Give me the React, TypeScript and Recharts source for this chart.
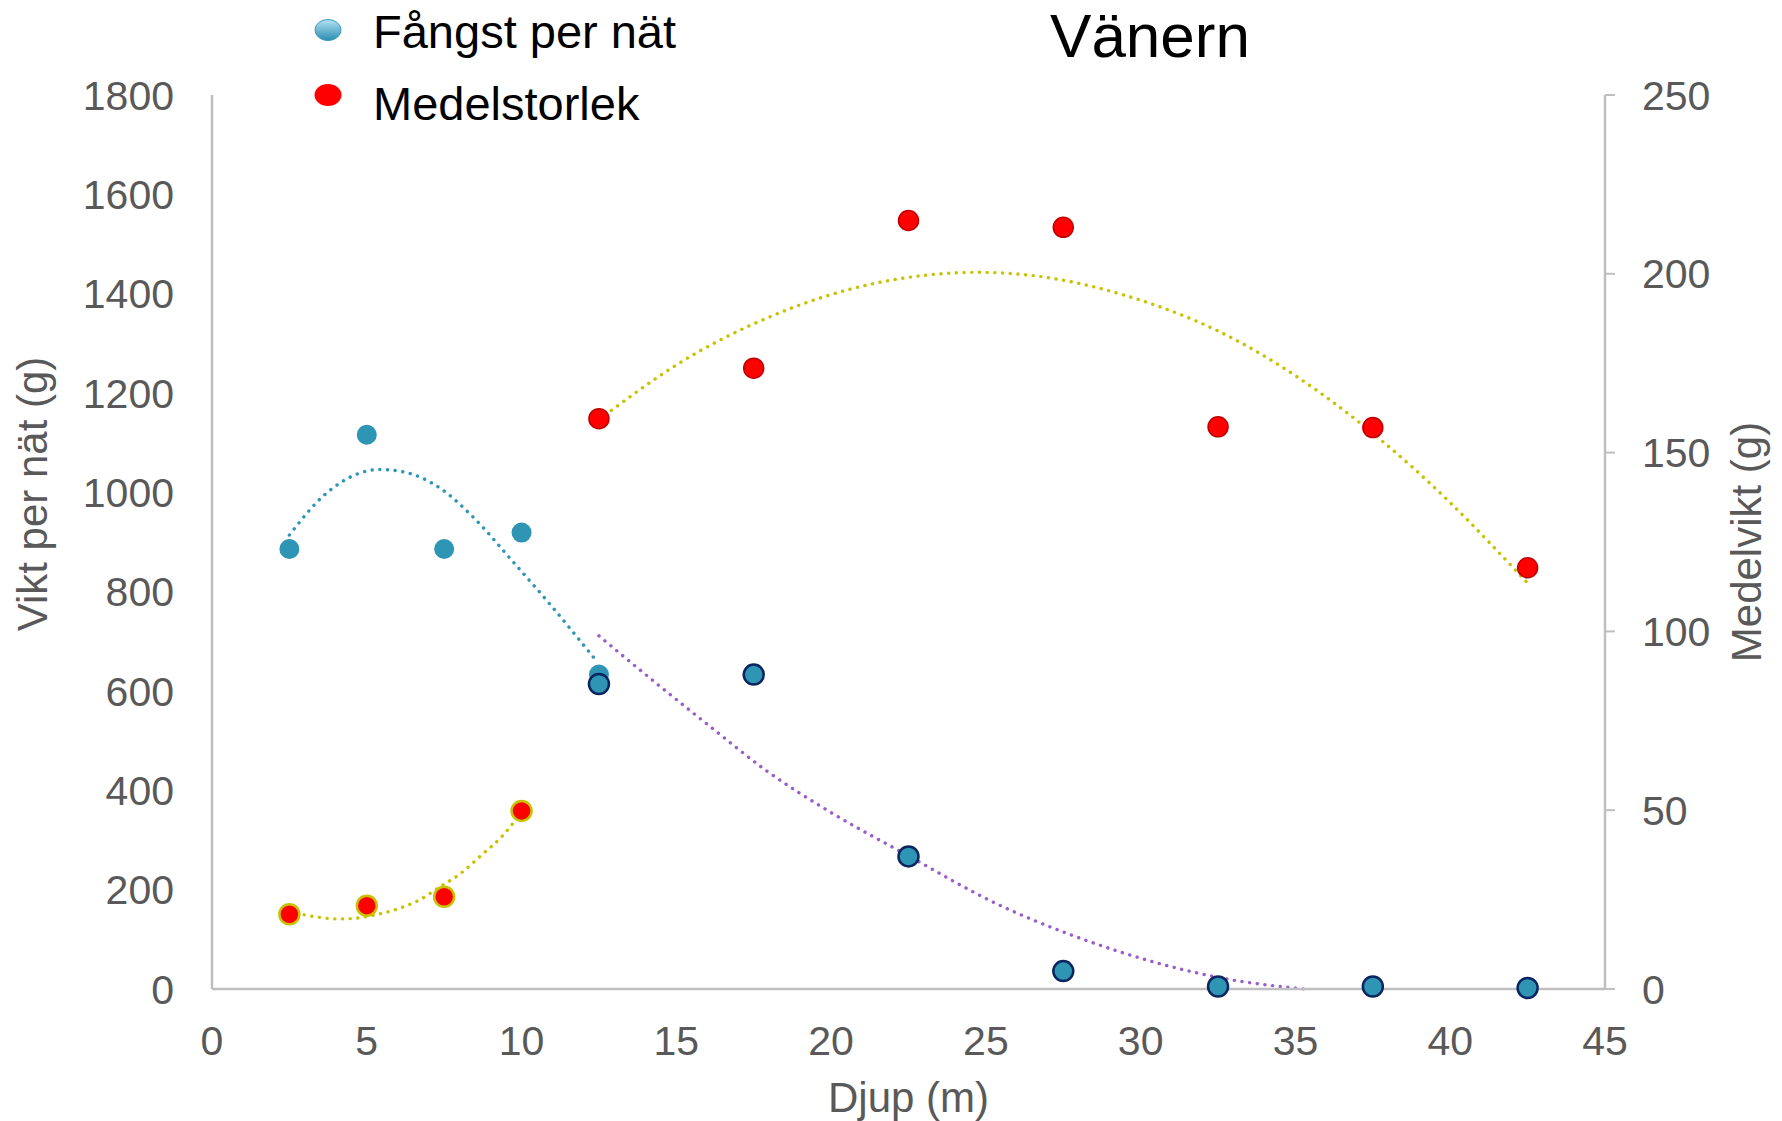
import React from 'react';
import {
  ComposedChart,
  Scatter,
  Line,
  XAxis,
  YAxis,
  Legend,
} from 'recharts';

// depths (m)
const depthA = [2.5, 5, 7.5, 10, 12.5];
const depthB = [12.5, 17.5, 22.5, 27.5, 32.5, 37.5, 42.5];
const depthSmall = [2.5, 5, 7.5, 10];

// Fångst per nät (g), left axis
const fangstA = [886, 1116, 886, 919, 633];
const fangstB = [614, 633, 267, 36, 5, 5, 2];

// Medelstorlek (g), right axis
const storlekA = [20.9, 23.3, 25.8, 49.8];
const storlekB = [159.5, 173.6, 214.9, 213, 157.2, 157, 117.8];

// trend lines
const trendFangstAX = [2.5, 3.6, 4.7, 5.4, 6.2, 7.4, 8.5, 9.7, 10.9, 12.4];
const trendFangstAY = [914, 993, 1037, 1046, 1041, 1007, 946, 862, 776, 662];
const trendFangstBX = [12.5, 14.5, 16.1, 17.9, 19.9, 22.5, 25.3, 28.1, 30.8, 32.7, 35.3];
const trendFangstBY = [711, 608, 528, 440, 359, 268, 173, 101, 48, 21, 0];
const trendStorlekAX = [2.5, 3, 3.5, 4, 4.5, 5.25, 6, 6.7, 7.35, 8, 8.75, 9.35, 10];
const trendStorlekAY = [21.9, 20.7, 20.0, 19.6, 19.7, 20.7, 22.4, 24.9, 28.5, 32.1, 37.8, 42.5, 49.5];
const trendStorlekBX = [12.5, 15, 17.5, 20, 22.5, 25, 27.5, 30, 32.5, 35, 37.5, 40, 42.5];
const trendStorlekBY = [159.2, 174.5, 186, 194.2, 199, 200.4, 198.2, 192.6, 184, 171.5, 155.4, 136, 113.5];

const xTicks = [0, 5, 10, 15, 20, 25, 30, 35, 40, 45];
const leftTicks = [0, 200, 400, 600, 800, 1000, 1200, 1400, 1600, 1800];
const rightTicks = [0, 50, 100, 150, 200, 250];

const FONT = '"Liberation Sans", Arial, sans-serif';
const GREY = '#595959';
const AXIS = '#bfbfbf';
const BLUE = '#2e95b5';
const PURPLE = '#9a5ecb';
const OLIVE = '#c9c200';

const pairs = (xs: number[], ys: number[]) => xs.map((x, i) => ({ x, y: ys[i] }));

const dot = (fill: string, stroke?: string, sw = 0) => (props: any) => (
  <circle cx={props.cx} cy={props.cy} r={10} fill={fill} stroke={stroke || 'none'} strokeWidth={sw} />
);

const tickStyle = { fontSize: 41, fill: GREY, fontFamily: FONT };

const leftTitle = (props: any) => {
  const vb = props.viewBox || { x: 0, y: 95, width: 212, height: 894 };
  const x = vb.x + 47;
  const y = vb.y + vb.height / 2 - 48;
  return (
    <text x={x} y={y} transform={`rotate(-90 ${x} ${y})`} textAnchor="middle" fontSize={42} fill={GREY} fontFamily={FONT}>
      Vikt per nät (g)
    </text>
  );
};

const rightTitle = (props: any) => {
  const vb = props.viewBox || { x: 1605, y: 95, width: 177, height: 894 };
  const x = vb.x + 156;
  const y = vb.y + vb.height / 2;
  return (
    <text x={x} y={y} transform={`rotate(-90 ${x} ${y})`} textAnchor="middle" fontSize={42} fill={GREY} fontFamily={FONT}>
      Medelvikt (g)
    </text>
  );
};

const bottomTitle = (props: any) => {
  const vb = props.viewBox || { x: 212, y: 989, width: 1393, height: 132 };
  return (
    <text x={vb.x + vb.width / 2} y={vb.y + 123} textAnchor="middle" fontSize={42} fill={GREY} fontFamily={FONT}>
      Djup (m)
    </text>
  );
};

const renderLegend = () => (
  <svg width={420} height={135} style={{ display: 'block' }}>
    <defs>
      <linearGradient id="blueMarker" x1="0" y1="0" x2="0" y2="1">
        <stop offset="0%" stopColor="#b4e2f4" />
        <stop offset="100%" stopColor="#2a8db0" />
      </linearGradient>
    </defs>
    <ellipse cx={28} cy={30} rx={13} ry={10.5} fill="url(#blueMarker)" stroke="#3a9cc0" strokeWidth={1} />
    <text x={73} y={48} fontSize={47} fill="#000" fontFamily={FONT}>Fångst per nät</text>
    <ellipse cx={28} cy={95} rx={13.5} ry={11} fill="#ff0000" />
    <text x={73} y={120} fontSize={47} fill="#000" fontFamily={FONT}>Medelstorlek</text>
  </svg>
);

export default function App() {
  return (
    <div style={{ position: 'absolute', left: 0, top: 0, width: 1782, height: 1121, background: '#fff' }}>
      <svg width={1782} height={80} style={{ position: 'absolute', left: 0, top: 0, pointerEvents: 'none' }}>
        <text x={1150} y={57} textAnchor="middle" fontSize={62} fill="#000" fontFamily={FONT}>
          Vänern
        </text>
      </svg>
      <ComposedChart width={1782} height={1121} margin={{ top: 95, right: 0, bottom: 0, left: 0 }}>
        <XAxis
          type="number"
          dataKey="x"
          domain={[0, 45]}
          ticks={xTicks}
          interval={0}
          height={132}
          tickLine={false}
          tickSize={0}
          tickMargin={37}
          axisLine={{ stroke: AXIS, strokeWidth: 2.5 }}
          tick={tickStyle}
          label={bottomTitle}
        />
        <YAxis
          yAxisId="left"
          type="number"
          domain={[0, 1800]}
          ticks={leftTicks}
          interval={0}
          width={212}
          tickLine={false}
          tickSize={0}
          tickMargin={38}
          axisLine={{ stroke: AXIS, strokeWidth: 2.5 }}
          tick={tickStyle}
          label={leftTitle}
        />
        <YAxis
          yAxisId="right"
          orientation="right"
          type="number"
          domain={[0, 250]}
          ticks={rightTicks}
          interval={0}
          width={177}
          tickLine={{ stroke: AXIS, strokeWidth: 2 }}
          tickSize={10}
          tickMargin={27}
          axisLine={{ stroke: AXIS, strokeWidth: 2.5 }}
          tick={tickStyle}
          label={rightTitle}
        />
        <Legend
          layout="vertical"
          align="center"
          verticalAlign="middle"
          content={renderLegend}
          wrapperStyle={{ position: 'absolute', top: 0, left: 300, width: 420, height: 135 }}
        />

        <Scatter yAxisId="left" name="Fångst per nät" data={pairs(depthA, fangstA)} dataKey="y" shape={dot(BLUE)} isAnimationActive={false} />
        <Scatter yAxisId="left" name="Fångst per nät djup" data={pairs(depthB, fangstB)} dataKey="y" shape={dot(BLUE, '#0b2560', 2.5)} isAnimationActive={false} />
        <Scatter yAxisId="right" name="Medelstorlek" data={pairs(depthSmall, storlekA)} dataKey="y" shape={dot('#ff0000', OLIVE, 2.5)} isAnimationActive={false} />
        <Scatter yAxisId="right" name="Medelstorlek djup" data={pairs(depthB, storlekB)} dataKey="y" shape={dot('#ff0000', '#c00000', 1.5)} isAnimationActive={false} />

        <Line yAxisId="left" type="monotone" data={pairs(trendFangstAX, trendFangstAY)} dataKey="y" stroke={BLUE} strokeWidth={3.4} strokeDasharray="0.1 7.6" strokeLinecap="round" dot={false} activeDot={false} legendType="none" isAnimationActive={false} />
        <Line yAxisId="left" type="monotone" data={pairs(trendFangstBX, trendFangstBY)} dataKey="y" stroke={PURPLE} strokeWidth={3.4} strokeDasharray="0.1 7.6" strokeLinecap="round" dot={false} activeDot={false} legendType="none" isAnimationActive={false} />
        <Line yAxisId="right" type="monotone" data={pairs(trendStorlekAX, trendStorlekAY)} dataKey="y" stroke={OLIVE} strokeWidth={3.4} strokeDasharray="0.1 7.6" strokeLinecap="round" dot={false} activeDot={false} legendType="none" isAnimationActive={false} />
        <Line yAxisId="right" type="natural" data={pairs(trendStorlekBX, trendStorlekBY)} dataKey="y" stroke={OLIVE} strokeWidth={3.4} strokeDasharray="0.1 7.6" strokeLinecap="round" dot={false} activeDot={false} legendType="none" isAnimationActive={false} />
      </ComposedChart>
    </div>
  );
}
